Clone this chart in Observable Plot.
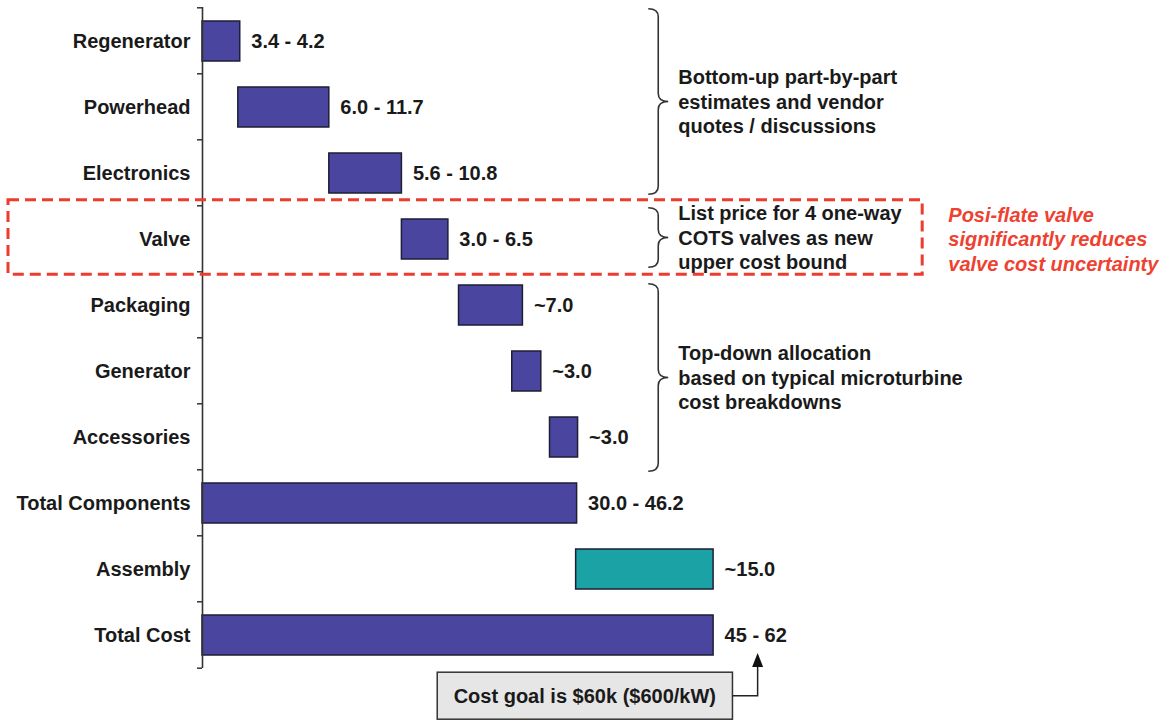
<!DOCTYPE html>
<html>
<head>
<meta charset="utf-8">
<script src="https://cdn.jsdelivr.net/npm/d3@7"></script>
<script src="https://cdn.jsdelivr.net/npm/@observablehq/plot@0.6"></script>
<style>
  html, body { margin: 0; padding: 0; background: #fff; }
  #chart svg { display: block; }
</style>
</head>
<body>
<div id="chart"></div>
<script>
// ---- Data ----
const categories = ["Regenerator", "Powerhead", "Electronics", "Valve", "Packaging",
  "Generator", "Accessories", "Total Components", "Assembly", "Total Cost"];
const rangeLabels = ["3.4 - 4.2", "6.0 - 11.7", "5.6 - 10.8", "3.0 - 6.5", "~7.0",
  "~3.0", "~3.0", "30.0 - 46.2", "~15.0", "45 - 62"];
const barStart = [0, 3.7, 13.1, 20.6, 26.5, 32.0, 35.9, 0, 38.6, 0];
const barEnd   = [3.9, 13.1, 20.6, 25.4, 33.1, 35.0, 38.8, 38.7, 52.8, 52.8];
const barKind  = ["component", "component", "component", "component", "component",
  "component", "component", "component", "assembly", "component"];

const braceFrom  = ["Regenerator", "Valve", "Packaging"];
const braceTo    = ["Electronics", "Valve", "Accessories"];
const braceTexts = [
  "Bottom-up part-by-part\nestimates and vendor\nquotes / discussions",
  "List price for 4 one-way\nCOTS valves as new\nupper cost bound",
  "Top-down allocation\nbased on typical microturbine\ncost breakdowns"
];
const highlightRow = "Valve";
const highlightNote = "Posi-flate valve\nsignificantly reduces\nvalve cost uncertainty";
const goalNote = "Cost goal is $60k ($600/kW)";

const data = categories.map((name, i) => ({
  name, start: barStart[i], end: barEnd[i], label: rangeLabels[i], kind: barKind[i]
}));

const FONT = "'Liberation Sans', Arial, Helvetica, sans-serif";
const INK = "#1a1a1a";
const FS = 20;

const plot = Plot.plot({
  width: 1170,
  height: 721,
  marginLeft: 202,
  marginRight: 0,
  marginTop: 7,
  marginBottom: 53,
  style: { fontFamily: FONT, fontSize: FS + "px", fontWeight: "bold", color: INK, background: "#fff", overflow: "visible" },
  x: { domain: [0, 100], axis: null },
  y: { domain: categories, paddingInner: 0.4, paddingOuter: 0.2, label: null },
  color: { domain: ["component", "assembly"], range: ["#4a459e", "#1ba2a4"] },
  marks: [
    Plot.barX(data, { x1: "start", x2: "end", y: "name", fill: "kind", stroke: "#1e1e36", strokeWidth: 1.5 }),
    Plot.text(data, { x: "end", y: "name", text: "label", textAnchor: "start", dx: 11, fill: INK, fontSize: FS, fontWeight: "bold" }),
    Plot.axisY({ tickSize: 0, tickPadding: 12, fontSize: FS, fontWeight: "bold", label: null }),
    Plot.ruleX([0], { stroke: "#333", strokeWidth: 1.6 })
  ]
});

document.getElementById("chart").appendChild(plot);

// ---- Annotations positioned through the plot's own scales ----
const xs = plot.scale("x"), ys = plot.scale("y");
const X = v => xs.apply(v);
const bw = ys.bandwidth;
const step = ys.step || bw / 0.6;
const slotTop = c => ys.apply(c) - step * 0.2;
const slotBottom = c => ys.apply(c) + bw + step * 0.2;
const mid = c => ys.apply(c) + bw / 2;

const svg = d3.select(plot);
const g = svg.append("g")
  .attr("font-family", FONT).attr("font-weight", "bold").attr("font-size", FS)
  .attr("text-anchor", "start");

// axis ticks at band boundaries
const bounds = categories.map(slotTop).concat([slotBottom(categories[categories.length - 1])]);
g.selectAll("line.tk").data(bounds).join("line")
  .attr("x1", X(0) - 5).attr("x2", X(0))
  .attr("y1", d => d).attr("y2", d => d)
  .attr("stroke", "#333").attr("stroke-width", 1.5);

function multiline(sel, x, cy, text, lh, attrs) {
  const lines = text.split("\n");
  const t = sel.append("text").attr("x", x).attr("text-anchor", "start");
  Object.entries(attrs || {}).forEach(([k, v]) => t.attr(k, v));
  lines.forEach((ln, i) => {
    t.append("tspan").attr("x", x)
      .attr("y", cy + (i - (lines.length - 1) / 2) * lh)
      .attr("dy", "0.36em").text(ln);
  });
  return t;
}

// curly braces with their notes
const braceX = X(46.1);
const braceW = 20;
const insetTop = [1, 2, 12], insetBottom = [12, 5, -1];
braceFrom.forEach((from, i) => {
  const y0 = slotTop(from) + insetTop[i];
  const y1 = slotBottom(braceTo[i]) - insetBottom[i];
  const ym = (y0 + y1) / 2;
  const xa = braceX, xb = braceX + braceW / 2, xc = braceX + braceW;
  const r = 8;
  const p = `M${xa},${y0} Q${xb},${y0} ${xb},${y0 + r} L${xb},${ym - r} Q${xb},${ym} ${xc},${ym}` +
            ` Q${xb},${ym} ${xb},${ym + r} L${xb},${y1 - r} Q${xb},${y1} ${xa},${y1}`;
  g.append("path").attr("d", p).attr("fill", "none").attr("stroke", "#333").attr("stroke-width", 1.6);
  multiline(g, xc + 10, ym, braceTexts[i], 24.6, { fill: INK });
});

// red dashed highlight box around the valve row
const hx1 = 8, hx2 = X(74.4);
const hy1 = slotTop(highlightRow) - 6, hy2 = slotBottom(highlightRow) + 2;
g.append("rect").attr("x", hx1).attr("y", hy1).attr("width", hx2 - hx1).attr("height", hy2 - hy1)
  .attr("fill", "none").attr("stroke", "#ee3b2e").attr("stroke-width", 3).attr("stroke-dasharray", "11,6");
multiline(g, X(77.1), mid(highlightRow), highlightNote, 24.6, { fill: "#ef4130", "font-style": "italic" });

// cost goal box with connector arrow
const last = categories[categories.length - 1];
const bx1 = X(24.3), bx2 = X(54.8);
const by1 = slotBottom(last) + 4, by2 = by1 + 47;
const bcy = (by1 + by2) / 2;
g.append("rect").attr("x", bx1).attr("y", by1).attr("width", bx2 - bx1).attr("height", by2 - by1)
  .attr("fill", "#e6e6e6").attr("stroke", "#333").attr("stroke-width", 1.5);
g.append("text").attr("x", (bx1 + bx2) / 2).attr("y", bcy).attr("dy", "0.36em")
  .attr("text-anchor", "middle").attr("fill", INK).text(goalNote);
const ax = X(57.4);
const tipY = mid(last) + 18;
g.append("path").attr("d", `M${bx2},${bcy} L${ax},${bcy} L${ax},${tipY + 12}`)
  .attr("fill", "none").attr("stroke", "#222").attr("stroke-width", 1.5);
g.append("path").attr("d", `M${ax},${tipY} L${ax - 5.5},${tipY + 14} L${ax + 5.5},${tipY + 14} Z`).attr("fill", "#111");
</script>
</body>
</html>
